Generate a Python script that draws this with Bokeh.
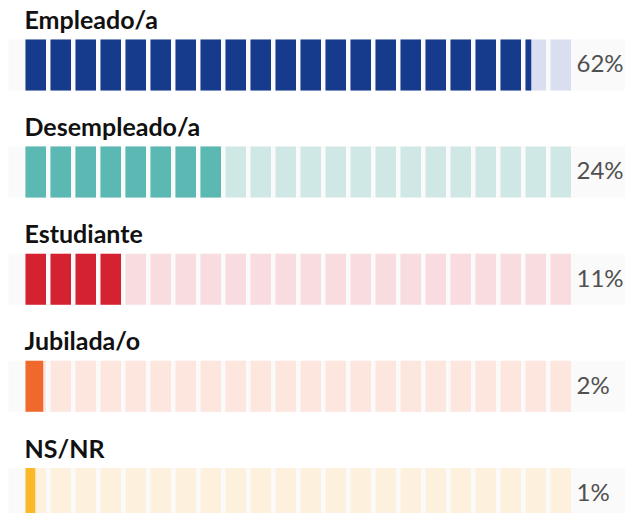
from bokeh.plotting import figure
from bokeh.models import Range1d
from bokeh.core.properties import value
from bokeh.embed import file_html
from bokeh.resources import INLINE

# ---- data ----
categories = ["Empleado/a", "Desempleado/a", "Estudiante", "Jubilada/o", "NS/NR"]
shares = [62, 24, 11, 2, 1]
share_labels = ["62%", "24%", "11%", "2%", "1%"]
fill_tiles = [20.23, 7.82, 3.82, 0.71, 0.39]   # filled length, in tiles
dark_colors = ["#173b8c", "#5bb8b2", "#d42231", "#f0682c", "#fbb829"]
light_colors = ["#d9dff0", "#cfe8e6", "#f8dcdf", "#fce6de", "#fdf1de"]
n_tiles = 22

# ---- layout constants ----
W, H = 625, 513
tile_w = 0.82
band_h = 0.476
x0, x1 = -1.0, 24.0
band_left = -0.68
y_top = 0.602
y_bot = y_top - H / 107.1

p = figure(width=W, height=H, output_backend="svg", toolbar_location=None,
           x_range=Range1d(x0, x1), y_range=Range1d(y_bot, y_top),
           min_border=0, outline_line_color=None, background_fill_color="white",
           border_fill_color="white")
p.axis.visible = False
p.grid.visible = False

ys = [-i for i in range(len(categories))]

# bands
p.quad(left=[band_left] * len(ys), right=[x1 + 1] * len(ys),
       top=[y + band_h / 2 for y in ys], bottom=[y - band_h / 2 for y in ys],
       fill_color="#fafafa", line_color=None)

# light tiles + dark fill pieces
lx, ly, lc = [], [], []
dl, dr, dy, dc = [], [], [], []
for r, (y, f) in enumerate(zip(ys, fill_tiles)):
    for i in range(n_tiles):
        lx.append(i + tile_w / 2)
        ly.append(y)
        lc.append(light_colors[r])
        part = min(max(f - i, 0), tile_w)
        if part > 0:
            dl.append(i)
            dr.append(i + part)
            dy.append(y)
            dc.append(dark_colors[r])

p.rect(x=lx, y=ly, width=tile_w, height=band_h, fill_color=lc, line_color=None)
p.quad(left=dl, right=dr, top=[y + band_h / 2 for y in dy],
       bottom=[y - band_h / 2 for y in dy], fill_color=dc, line_color=None)

# category labels
p.text(x=[-0.04] * len(ys), y=[y + band_h / 2 + 0.19 for y in ys], text=categories,
       text_font=value("Lato"), text_font_style="bold", text_font_size="25px",
       text_color="#111111", text_baseline="alphabetic", text_align="left")

# share labels
p.text(x=[22.04] * len(ys), y=[y + 0.02 for y in ys], text=share_labels,
       text_font=value("Lato"), text_font_size="24px",
       text_color="#505050", text_baseline="middle", text_align="left")

open("out.html", "w").write(file_html(p, INLINE))
